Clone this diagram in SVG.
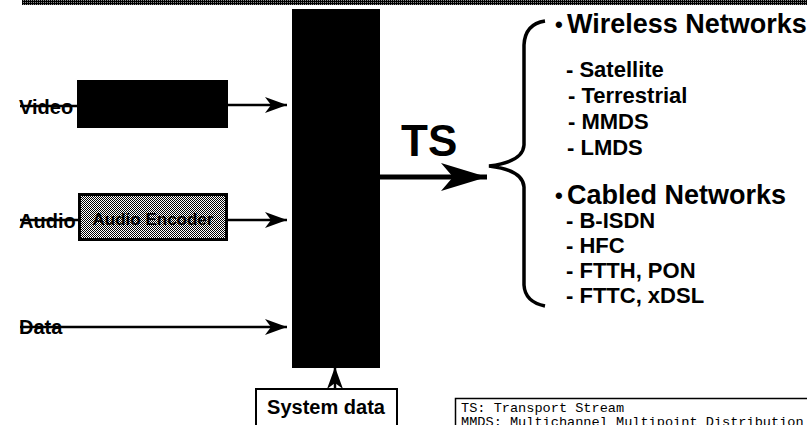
<svg xmlns="http://www.w3.org/2000/svg" width="807" height="425" viewBox="0 0 807 425">
  <style>
    .lbl { font-family: "Liberation Sans", Arial, sans-serif; font-weight: bold; fill: #000; }
    .in { font-size: 20px; }
    .head { font-size: 27px; }
    .sub { font-size: 22px; }
    .mono { font-family: "Liberation Mono", "Courier New", monospace; font-size: 13.6px; fill: #000; }
    .wire { stroke: #000; stroke-width: 2.5; fill: none; marker-end: url(#arr); }
    .plain { stroke: #000; stroke-width: 2.5; fill: none; }
  </style>
  <defs>
    <!-- barbed arrowhead for input lines -->
    <marker id="arr" markerUnits="userSpaceOnUse" markerWidth="24" markerHeight="18" refX="22" refY="8" orient="auto">
      <path d="M0,0 L22,8 L0,16 L6,8 Z" fill="#000"/>
    </marker>
    <!-- large arrowhead for the transport stream output -->
    <marker id="bigarr" markerUnits="userSpaceOnUse" markerWidth="48" markerHeight="30" refX="46" refY="14" orient="auto">
      <path d="M0,0 L46,14 L0,28 L12,14 Z" fill="#000"/>
    </marker>
    <!-- halftone fills -->
    <pattern id="dither" width="2" height="2" patternUnits="userSpaceOnUse">
      <rect width="2" height="2" fill="#fff"/>
      <rect width="1" height="1" fill="#000"/>
      <rect x="1" y="1" width="1" height="1" fill="#000"/>
    </pattern>
    <pattern id="darkband" width="2" height="2" patternUnits="userSpaceOnUse">
      <rect width="2" height="2" fill="#000"/>
      <rect x="1" y="0" width="1" height="1" fill="#888"/>
    </pattern>
  </defs>

  <rect width="807" height="425" fill="#fff"/>

  <!-- header rule -->
  <rect x="22" y="0" width="785" height="5" fill="url(#darkband)"/>

  <!-- connectors -->
  <g id="connectors">
    <line class="plain" x1="20" y1="106" x2="78" y2="106"/>
    <line class="wire" x1="228" y1="105" x2="287" y2="105"/>
    <line class="plain" x1="20" y1="220" x2="80" y2="220"/>
    <line class="wire" x1="228" y1="220" x2="287" y2="220"/>
    <line class="wire" x1="20" y1="327" x2="287" y2="327"/>
    <line class="wire" x1="335" y1="389" x2="335" y2="367"/>
    <line stroke="#000" stroke-width="5" fill="none" marker-end="url(#bigarr)" x1="380" y1="177" x2="487" y2="177"/>
  </g>

  <g id="video">
    <text class="lbl in" x="19" y="114">Video</text>
    <rect x="77" y="80" width="151" height="48" fill="#000"/>
  </g>

  <g id="audio">
    <text class="lbl in" x="19" y="228">Audio</text>
    <rect x="79.5" y="194.5" width="147" height="45" fill="url(#dither)" stroke="#000" stroke-width="3"/>
    <text class="lbl" x="153" y="225" font-size="17" text-anchor="middle">Audio Encoder</text>
  </g>

  <g id="data">
    <text class="lbl in" x="19" y="334">Data</text>
  </g>

  <g id="mux">
    <rect x="292" y="9" width="88" height="359" fill="#000"/>
  </g>

  <g id="system-data">
    <rect x="256" y="389" width="141" height="40" fill="#fff" stroke="#000" stroke-width="2"/>
    <text class="lbl" x="326" y="414" font-size="20" text-anchor="middle">System data</text>
  </g>

  <g id="ts-label">
    <text class="lbl" x="401" y="156" font-size="44">TS</text>
  </g>

  <g id="networks">
    <path d="M545 21 Q525 24 524 45 L524 145 Q523 162 489 166 Q523 170 524 187 L524 285 Q525 302 545 306" fill="none" stroke="#000" stroke-width="3.5"/>
    <text class="lbl" x="555" y="32" font-size="22">•</text>
    <text class="lbl head" x="567" y="33">Wireless Networks</text>
    <text class="lbl sub" x="566" y="77">- Satellite</text>
    <text class="lbl sub" x="568" y="103">- Terrestrial</text>
    <text class="lbl sub" x="568" y="129">- MMDS</text>
    <text class="lbl sub" x="567" y="155">- LMDS</text>
    <text class="lbl" x="555" y="203" font-size="22">•</text>
    <text class="lbl head" x="567" y="204">Cabled Networks</text>
    <text class="lbl sub" x="566" y="228">- B-ISDN</text>
    <text class="lbl sub" x="566" y="253">- HFC</text>
    <text class="lbl sub" x="566" y="278">- FTTH, PON</text>
    <text class="lbl sub" x="566" y="303">- FTTC, xDSL</text>
  </g>

  <g id="legend">
    <rect x="455.5" y="398.5" width="360" height="40" fill="#fff" stroke="#000" stroke-width="1.5"/>
    <text class="mono" x="461" y="412">TS: Transport Stream</text>
    <text class="mono" x="461" y="426">MMDS: Multichannel Multipoint Distribution</text>
  </g>
</svg>
